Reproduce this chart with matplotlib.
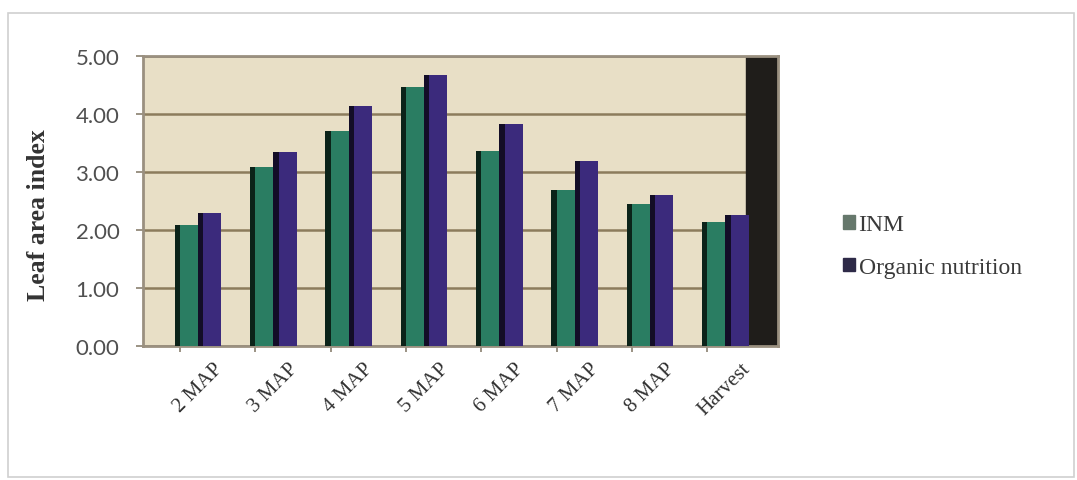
import matplotlib
matplotlib.use("Agg")
import matplotlib.pyplot as plt
import numpy as np
from matplotlib.patches import Rectangle

categories = ["2 MAP", "3 MAP", "4 MAP", "5 MAP", "6 MAP", "7 MAP", "8 MAP", "Harvest"]
inm = [2.08, 3.09, 3.70, 4.46, 3.36, 2.69, 2.44, 2.14]
organic = [2.29, 3.35, 4.14, 4.68, 3.83, 3.19, 2.60, 2.26]
yticks = [0.0, 1.0, 2.0, 3.0, 4.0, 5.0]

fig = plt.figure(figsize=(10.77, 4.81), dpi=100)
fig.patch.set_facecolor("white")
ax = fig.add_axes([143/1077, 1-347/481, (778-143)/1077, (347-57)/481])
ax.set_facecolor("#e8dfc6")

x = np.arange(len(categories))
w = 0.31
c_inm = "#2a7d62"
c_org = "#3b2a7c"
ax.bar(x - w/2, inm, width=w, color=c_inm, linewidth=0, zorder=3)
ax.bar(x + w/2, organic, width=w, color=c_org, linewidth=0, zorder=3)
# shaded left edges for a cylinder-like look
ax.bar(x - w + 0.035, inm, width=0.07, color="#06140c", linewidth=0, zorder=4, alpha=0.85)
ax.bar(x + 0.035, organic, width=0.07, color="#0c0818", linewidth=0, zorder=4, alpha=0.85)

ax.set_ylim(0, 5)
ax.set_xlim(-0.73, 7.70)
ax.axvspan(7.28, 7.70, color="#1f1d1a", zorder=2)

ax.set_yticks(yticks)
ax.set_yticklabels([f"{v:.2f}" for v in yticks], fontsize=16, color="#505050", family="Lato")
ax.tick_params(axis="y", direction="out", length=5, width=1.2, color="#8a8070", pad=12)
ax.grid(axis="y", color="#8c7c5c", linewidth=1.8, zorder=1)

# tick marks at category boundaries, labels near bar centers
ax.set_xticks(x - 0.24)
ax.set_xticklabels([])
ax.tick_params(axis="x", direction="out", length=4, width=1.2, color="#8a8070")
ax.set_xticks(x + 0.2, minor=True)
ax.set_xticklabels(categories, minor=True, rotation=45, ha="right", va="top",
                   rotation_mode="anchor", fontsize=15, family="Liberation Serif", color="#333333")
ax.tick_params(axis="x", which="minor", length=0, pad=9)

for s in ax.spines.values():
    s.set_color("#9a9080")
    s.set_linewidth(2)

ax.set_ylabel("Leaf area index", fontsize=18.5, fontweight="bold", family="Liberation Serif",
              color="#333333")
ax.yaxis.set_label_coords(-0.147, 0.455)

h1 = Rectangle((0, 0), 1, 1, color="#66786c")
h2 = Rectangle((0, 0), 1, 1, color="#2e2a48")
leg = fig.legend([h1, h2], ["INM", "Organic nutrition"], loc="center left",
                 bbox_to_anchor=(822/1077, 1-247/481), frameon=False,
                 prop={"family": "Liberation Serif", "size": 17},
                 handlelength=0.5, handleheight=0.5, handletextpad=0.15, labelspacing=0.9)
for t in leg.get_texts():
    t.set_color("#3a3a3a")

# outer chart frame
fig.add_artist(Rectangle((8/1077, 3/481), 1066/1077, 464/481, transform=fig.transFigure,
                         fill=False, edgecolor="#d0d0d0", linewidth=1.2))

fig.savefig("out.png", dpi=100)
